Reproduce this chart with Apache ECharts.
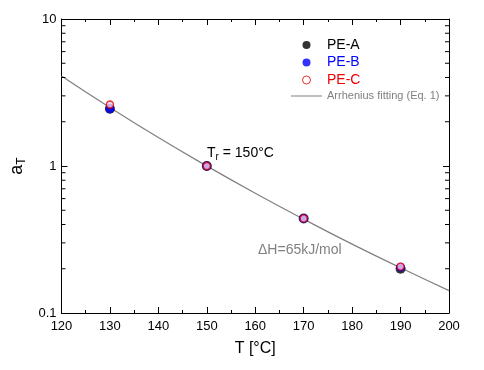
<!DOCTYPE html>
<html><head><meta charset="utf-8">
<script src="https://cdn.jsdelivr.net/npm/echarts@6/dist/echarts.min.js"></script>
<style>html,body{margin:0;padding:0;background:#fff}#c{width:484px;height:370px}</style>
</head><body><div id="c"></div>
<script>
const xTicks = [120, 200, 10];
const yRange = [0.1, 10];
const tempA = [130, 150, 170, 190];
const peA = [2.45, 1.0, 0.44, 0.200];
const peB = [2.45, 1.0, 0.44, 0.205];
const peC = [2.62, 1.0, 0.44, 0.207];
const fitT = [120, 130, 140, 150, 160, 170, 180, 190, 200];
const fitA = [4.1, 2.5, 1.56, 1.0, 0.653, 0.435, 0.294, 0.203, 0.142];
const yMinor = [0.2,0.3,0.4,0.5,0.6,0.7,0.8,0.9,2,3,4,5,6,7,8,9];
const yLabels = {0.1:'0.1', 1:'1', 10:'10'};

const font = 'Liberation Sans, Arial, sans-serif';
const pairs = (xs, ys) => xs.map((x,i)=>[x, ys[i]]);

const chart = echarts.init(document.getElementById('c'), null, {renderer:'canvas'});
const baseX = {
  type:'value', min:xTicks[0], max:xTicks[1], interval:xTicks[2],
  axisLine:{show:true, onZero:false, lineStyle:{color:'#000', width:1}},
  axisTick:{show:true, inside:true, length:6, lineStyle:{color:'#000'}},
  minorTick:{show:true, splitNumber:2, length:3, lineStyle:{color:'#000'}},
  splitLine:{show:false}
};
const baseY = {
  type:'log', logBase:10, min:yRange[0], max:yRange[1],
  axisLine:{show:true, onZero:false, lineStyle:{color:'#000', width:1}},
  axisTick:{show:true, inside:true, length:6, lineStyle:{color:'#000'}},
  splitLine:{show:false}
};
chart.setOption({
  animation:false,
  backgroundColor:'#fff',
  textStyle:{fontFamily:font},
  grid:{left:56, top:19, right:35, bottom:57, containLabel:false},
  xAxis:[
    Object.assign({}, baseX, {position:'bottom',
      axisLabel:{show:true, color:'#000', fontSize:13, fontFamily:font, margin:7},
      name:'T [°C]', nameLocation:'middle', nameGap:28,
      nameTextStyle:{color:'#000', fontSize:16, fontFamily:font}}),
    Object.assign({}, baseX, {position:'top', axisLabel:{show:false}})
  ],
  yAxis:[
    Object.assign({}, baseY, {position:'left',
      axisLabel:{show:true, color:'#000', fontSize:13, fontFamily:font, margin:5,
        formatter:v=>yLabels[v] || (Math.abs(v-0.1)<1e-9?'0.1':String(v))},
      name:'{a|a}{s|T}', nameLocation:'middle', nameGap:22, nameRotate:90,
      nameTextStyle:{rich:{a:{fontSize:18, color:'#000', fontFamily:font},
        s:{fontSize:12, color:'#000', fontFamily:font, verticalAlign:'bottom', padding:[9,0,0,0]}}}}),
    Object.assign({}, baseY, {position:'right', axisLabel:{show:false}})
  ],
  legend:{
    orient:'vertical', left:291, top:38, padding:0, itemWidth:31, itemHeight:8, itemGap:3.5,
    textStyle:{fontFamily:font, fontSize:14},
    data:[
      {name:'PE-A', textStyle:{color:'#000'}},
      {name:'PE-B', textStyle:{color:'#0000ff'}},
      {name:'PE-C', itemStyle:{color:'#fff', borderColor:'#e00000', borderWidth:1}, textStyle:{color:'#ee0000'}},
      {name:'Arrhenius fitting (Eq. 1)', icon:'path://M0,0 H31 V1 H0 Z', textStyle:{color:'#808080', fontSize:11}}
    ]
  },
  graphic:[
    {type:'text', left:207, top:146, style:{
      text:'{t|T}{r|r}{t| = 150°C}', fill:'#000', font:'14px '+font,
      rich:{t:{fontSize:14, fontFamily:font, fill:'#000'}, r:{fontSize:10, fontFamily:font, fill:'#000', padding:[9,0,0,0]}}}},
    {type:'text', left:258, top:243, style:{text:'ΔH=65kJ/mol', fill:'#808080', font:'14px '+font}}
  ],
  series:[
    {name:'Arrhenius fitting (Eq. 1)', type:'line', smooth:true, showSymbol:false, symbol:'none',
      data:pairs(fitT, fitA), lineStyle:{color:'#808080', width:1.2}, itemStyle:{color:'#808080'}, z:1},
    {name:'PE-A', type:'scatter', data:pairs(tempA, peA), symbol:'circle', symbolSize:10,
      itemStyle:{color:'#000'}, z:2},
    {name:'PE-B', type:'scatter', data:pairs(tempA, peB), symbol:'circle', symbolSize:9,
      itemStyle:{color:'#0000ff'}, z:3},
    {name:'PE-C', type:'scatter', data:pairs(tempA, peC), symbol:'circle', symbolSize:7,
      itemStyle:{color:'#ffd0f0', borderColor:'#e00000', borderWidth:1.3}, z:4},
    {type:'custom', silent:true, z:5, clip:false, encode:{x:0, y:1},
      data:yMinor.map(v=>[xTicks[0], v]),
      renderItem:(params, api)=>{
        const v = api.value(1);
        const l = api.coord([xTicks[0], v]);
        const r = api.coord([xTicks[1], v]);
        return {type:'group', children:[
          {type:'line', shape:{x1:l[0], y1:l[1], x2:l[0]+4, y2:l[1]}, style:{stroke:'#000', lineWidth:1}},
          {type:'line', shape:{x1:r[0], y1:r[1], x2:r[0]-4, y2:r[1]}, style:{stroke:'#000', lineWidth:1}}
        ]};
      }}
  ]
});
</script></body></html>
